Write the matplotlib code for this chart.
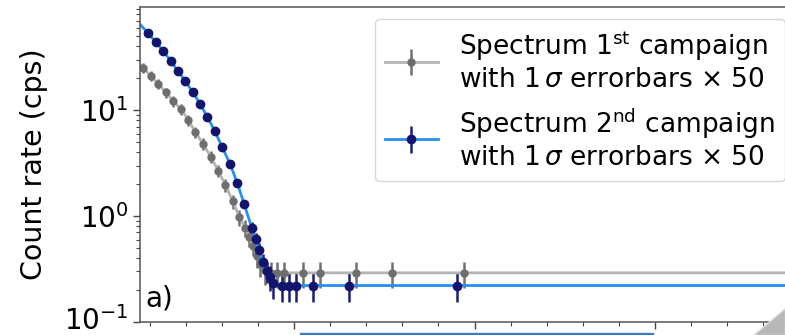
import numpy as np
import matplotlib
matplotlib.use("Agg")
import matplotlib.pyplot as plt
import matplotlib.transforms as mtrans
from matplotlib.ticker import MultipleLocator, AutoMinorLocator, FixedLocator
from matplotlib.patches import Polygon, Rectangle

# spectrum of the 1st campaign (count rate, errors already x50)
x_first = [62, 83, 103, 124, 145, 166, 188, 207, 227, 248, 269, 290, 310, 330, 349,
           365, 375, 386, 398, 407, 421, 437, 453, 471, 524, 572, 672, 772, 971, 2500]
rate_first = [29.9, 25.0, 21.0, 17.67, 14.72, 12.1, 10.15, 8.05, 6.20, 4.80, 3.64, 2.69, 1.96, 1.385, 0.974,
              0.770, 0.631, 0.527, 0.424, 0.354, 0.309, 0.291, 0.291, 0.291, 0.291, 0.291, 0.291, 0.291, 0.291, 0.291]
err_first = [3.0, 2.6, 2.2, 1.9, 1.6, 1.35, 1.15, 0.95, 0.75, 0.6, 0.48, 0.37, 0.28, 0.21, 0.16,
             0.14, 0.12, 0.11, 0.10, 0.09, 0.085, 0.08, 0.08, 0.08, 0.08, 0.08, 0.08, 0.08, 0.08, 0.08]

# spectrum of the 2nd campaign
x_second = [57, 96, 118, 138, 158, 179, 199, 219, 240, 260, 280, 301, 323, 343, 362, 383,
            394, 403, 413, 424, 434, 443, 466, 486, 506, 553, 652, 952, 2500]
rate_second = [74.6, 53.0, 43.6, 35.9, 29.3, 23.2, 18.7, 14.85, 11.44, 8.59, 6.41, 4.46, 3.11, 2.04, 1.30, 0.774,
               0.609, 0.473, 0.367, 0.301, 0.265, 0.232, 0.221, 0.221, 0.221, 0.221, 0.221, 0.221, 0.221]
err_second = [2.5, 2.0, 1.7, 1.45, 1.2, 1.0, 0.85, 0.7, 0.55, 0.45, 0.36, 0.27, 0.21, 0.16, 0.12, 0.10,
              0.09, 0.08, 0.075, 0.07, 0.07, 0.068, 0.068, 0.068, 0.068, 0.068, 0.068, 0.068, 0.068]

y_ticks = [0.1, 1, 10]

label_first = "Spectrum 1$^{\\rm st}$ campaign\nwith 1$\\,\\sigma$ errorbars $\\times$ 50"
label_second = "Spectrum 2$^{\\rm nd}$ campaign\nwith 1$\\,\\sigma$ errorbars $\\times$ 50"

plt.rcParams['font.family'] = ['DejaVu Sans']
plt.rcParams['mathtext.fontset'] = 'dejavusans'

fig = plt.figure(figsize=(7.85, 3.35), dpi=100)
ax = fig.add_axes([140 / 785, 13 / 335, 657 / 785, 315 / 335])

ax.errorbar(x_first, rate_first, yerr=err_first, fmt='o-', color='#b4b4b4',
            mfc='#6e6e6e', mec='#6e6e6e', ecolor='#707070', ms=5, lw=2,
            elinewidth=1.8, label=label_first)
ax.errorbar(x_second, rate_second, yerr=err_second, fmt='o-', color='#2590f0',
            mfc='#12146e', mec='#12146e', ecolor='#1c1e78', ms=6, lw=2,
            elinewidth=1.8, label=label_second)

ax.set_yscale('log')
ax.set_ylim(0.1, 94)
ax.yaxis.set_major_locator(FixedLocator(y_ticks))
ax.set_xlim(73.4, 1893.3)
ax.xaxis.set_major_locator(MultipleLocator(500))
ax.xaxis.set_minor_locator(AutoMinorLocator(5))
ax.tick_params(axis='x', labelbottom=False)
ax.tick_params(which='major', length=5, width=1, labelsize=20, color='#444444')
ax.tick_params(which='minor', length=3, width=0.8, color='#444444')
for s in ax.spines.values():
    s.set_color('#555555')
    s.set_linewidth(1.1)

ax.set_ylabel("Count rate (cps)", fontsize=20.5, labelpad=11)
ax.text(0.008, 0.03, "a)", transform=ax.transAxes, fontsize=20, ha='left', va='bottom')

ax.legend(loc='upper right', fontsize=19, borderaxespad=0.45)

# lowest tick label sits at the bottom edge; nudge it up a little so it stays inside
fig.canvas.draw()
bottom_tick = ax.yaxis.get_major_ticks()[0]
bottom_tick.label1.set_transform(bottom_tick.label1.get_transform()
                                 + mtrans.ScaledTranslation(0, 3 / 72, fig.dpi_scale_trans))

# bits of the neighbouring panel cut off at the bottom of the image
fig.patches.append(Rectangle((300 / 785, 0), 353 / 785, 2 / 335, transform=fig.transFigure,
                             color='#3c7cc4', zorder=5))
fig.patches.append(Polygon([(753 / 785, 0), (1, 0), (1, 27 / 335)], closed=True,
                           transform=fig.transFigure, facecolor='#b8b8b8',
                           edgecolor='#dddddd', zorder=5))

fig.savefig("out.png", dpi=100)
